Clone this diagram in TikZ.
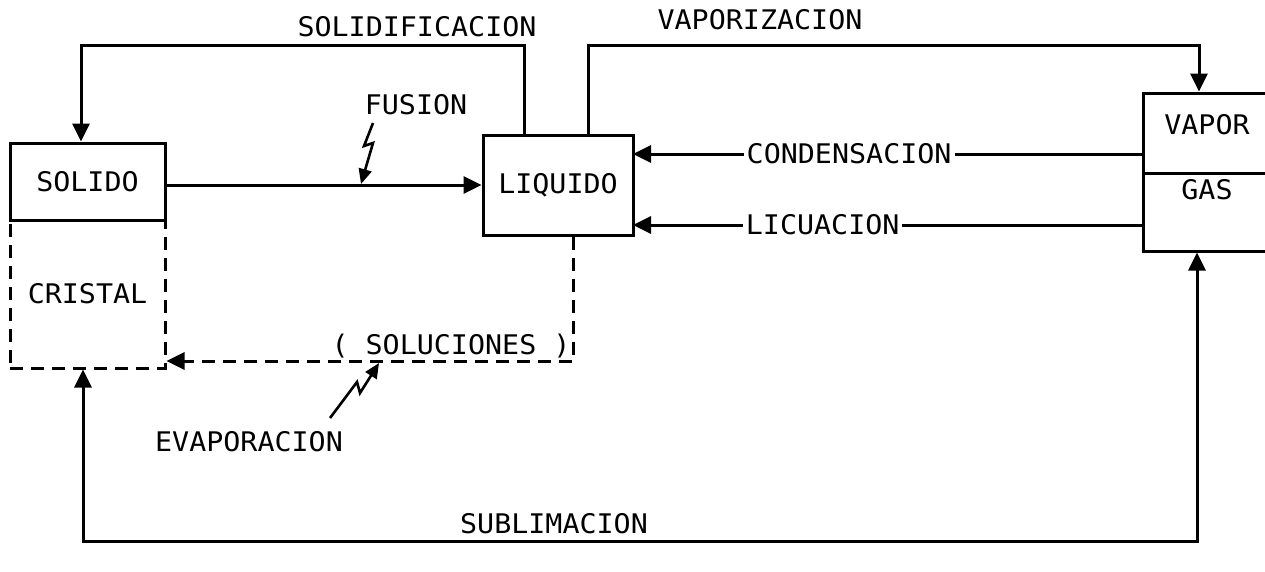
\documentclass[tikz,border=0pt]{standalone}
\usepackage{fontspec}
\newfontfamily\plotfont[FakeStretch=1.05]{DejaVu Sans Mono}
\usetikzlibrary{arrows.meta}
\tikzset{
  txt/.style={font=\plotfont\fontsize{27}{30}\selectfont, inner sep=1pt},
  box/.style={draw, line width=3pt, minimum width=#1, inner sep=0pt},
  arr/.style={line width=3pt, -{Triangle[length=18pt,width=17pt]}},
  darr/.style={line width=3pt, {Triangle[length=18pt,width=17pt]}-{Triangle[length=18pt,width=17pt]}},
  dashline/.style={line width=3pt, dash pattern=on 13pt off 8pt},
  bolt/.style={line width=2.6pt, -{Triangle[length=15pt,width=13pt]}},
}
\begin{document}
\begin{tikzpicture}[x=1pt,y=-1pt]
\useasboundingbox (0,0) rectangle (1265,571);
% boxes
\node[box=155pt, minimum height=77pt, txt] (solido) at (87.5,181.5) {SOLIDO};
\node[box=155pt, minimum height=148pt, txt, dashline] (cristal) at (87.5,294) {CRISTAL};
\node[box=150pt, minimum height=100pt, txt] (liquido) at (558,185) {LIQUIDO};
\node[box=137pt, minimum height=80pt] (vapor) at (1211.5,133) {};
\node[box=137pt, minimum height=78pt] (gas) at (1211.5,212) {};
\node[txt] (vaportxt) at (1207,125) {VAPOR};
\node[txt] (gastxt) at (1207,190) {GAS};
% labels
\node[txt] (lsolid) at (417,27) {SOLIDIFICACION};
\node[txt] (lvapor) at (760,20) {VAPORIZACION};
\node[txt] (lfusion) at (416,105) {FUSION};
\node[txt] (lsoluc) at (451,346) {( SOLUCIONES )};
\node[txt] (levap) at (249,442) {EVAPORACION};
\node[txt] (lsublim) at (554,524) {SUBLIMACION};
% coordinates
\coordinate (topS) at (81,45);
\coordinate (topV) at (1199,45);
\coordinate (c1) at (633,154);
\coordinate (c2) at (633,225);
\coordinate (d1) at (573,361);
\coordinate (bot) at (83,541);
% solidificacion
\draw[arr] ([xshift=-34pt]liquido.north) |- (topS) -- (topS |- solido.north);
% vaporizacion
\draw[arr] ([xshift=30pt]liquido.north) |- (topV) -- (topV |- vapor.north);
% fusion
\draw[arr] (solido.east |- liquido.west) -- (liquido.west);
% condensacion / licuacion
\draw[arr] (c1 -| vapor.west) -- node[pos=0.575, fill=white, txt, inner xsep=3pt] (lcond) {CONDENSACION} (c1);
\draw[arr] (c2 -| vapor.west) -- node[pos=0.627, fill=white, txt, inner xsep=3pt] (llicu) {LICUACION} (c2);
% soluciones
\draw[dashline, -{Triangle[length=18pt,width=17pt]}] (d1 |- liquido.south) -- (d1) -- (d1 -| cristal.east);
% sublimacion
\draw[darr] (bot |- cristal.south) -- (bot) -| ([xshift=-14.5pt]gas.south);
% lightning bolts
\coordinate (f0) at (373,123);
\coordinate (f1) at (364,146);
\coordinate (f2) at (373,143);
\coordinate (f3) at (361,184);
\draw[bolt] (f0) -- (f1) -- (f2) -- (f3);
\coordinate (e0) at (330,418);
\coordinate (e1) at (357,382);
\coordinate (e2) at (360,393);
\coordinate (e3) at (379,363);
\draw[bolt] (e0) -- (e1) -- (e2) -- (e3);
\end{tikzpicture}
\end{document}
